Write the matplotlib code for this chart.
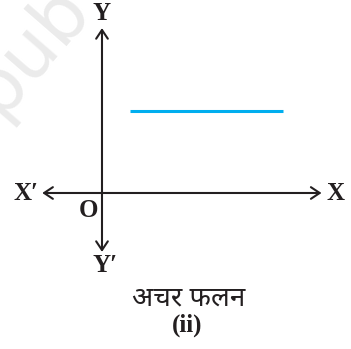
import matplotlib
matplotlib.use("Agg")
import matplotlib.pyplot as plt
from matplotlib.patches import FancyArrowPatch

# constant function f(x) = c drawn for a short x range
fn_x = [1.0, 6.5]
fn_y = [2.95, 2.95]

# axis extents (data units)
x_axis = [-2.15, 7.9]
y_axis = [-2.12, 5.93]

caption = "अचर फलन"
part = "(ii)"

LATIN = ["Liberation Serif", "DejaVu Serif"]
DEVA = ["Noto Sans Devanagari", "Noto Sans Devanagari UI", "DejaVu Sans"]
INK = "#231f20"

fig = plt.figure(figsize=(3.51, 3.49), dpi=100)
ax = fig.add_axes([0, 0, 1, 1])
ax.set_xlim(-3.67, 8.96)
ax.set_ylim(-5.61, 6.94)
ax.axis("off")

# watermark (behind everything)
ax.text(-3.75, 2.7, "pub", rotation=49, rotation_mode="anchor",
        ha="left", va="baseline", fontsize=54, color="#ebebeb",
        family=["DejaVu Sans"], zorder=0)

# axes with arrow heads
for (x0, y0), (x1, y1) in [((x_axis[0], 0), (x_axis[1], 0)),
                           ((0, y_axis[0]), (0, y_axis[1]))]:
    ax.add_patch(FancyArrowPatch((x0, y0), (x1, y1),
                                 arrowstyle="<->,head_length=0.45,head_width=0.3",
                                 mutation_scale=14, lw=1.5, color=INK,
                                 shrinkA=0, shrinkB=0, zorder=3))

ax.plot(fn_x, fn_y, color="#00aeef", lw=2.2, solid_capstyle="butt", zorder=2)

lbl = dict(fontsize=18, fontweight="bold", family=LATIN, color=INK, zorder=4)
ax.text(0, 6.45, "Y", ha="center", va="center", **lbl)
ax.text(0.1, -2.6, "Y′", ha="center", va="center", **lbl)
ax.text(-2.3, -0.03, "X′", ha="right", va="center", **lbl)
ax.text(8.08, -0.03, "X", ha="left", va="center", **lbl)
ax.text(-0.5, -0.62, "O", ha="center", va="center", **lbl)

ax.text(3.1, -3.8, caption, ha="center", va="center", fontsize=20,
        family=DEVA, color=INK)
ax.text(3.05, -4.75, part, ha="center", va="center", fontsize=18,
        fontweight="bold", family=LATIN, color=INK)

fig.savefig("out.png", dpi=100)
